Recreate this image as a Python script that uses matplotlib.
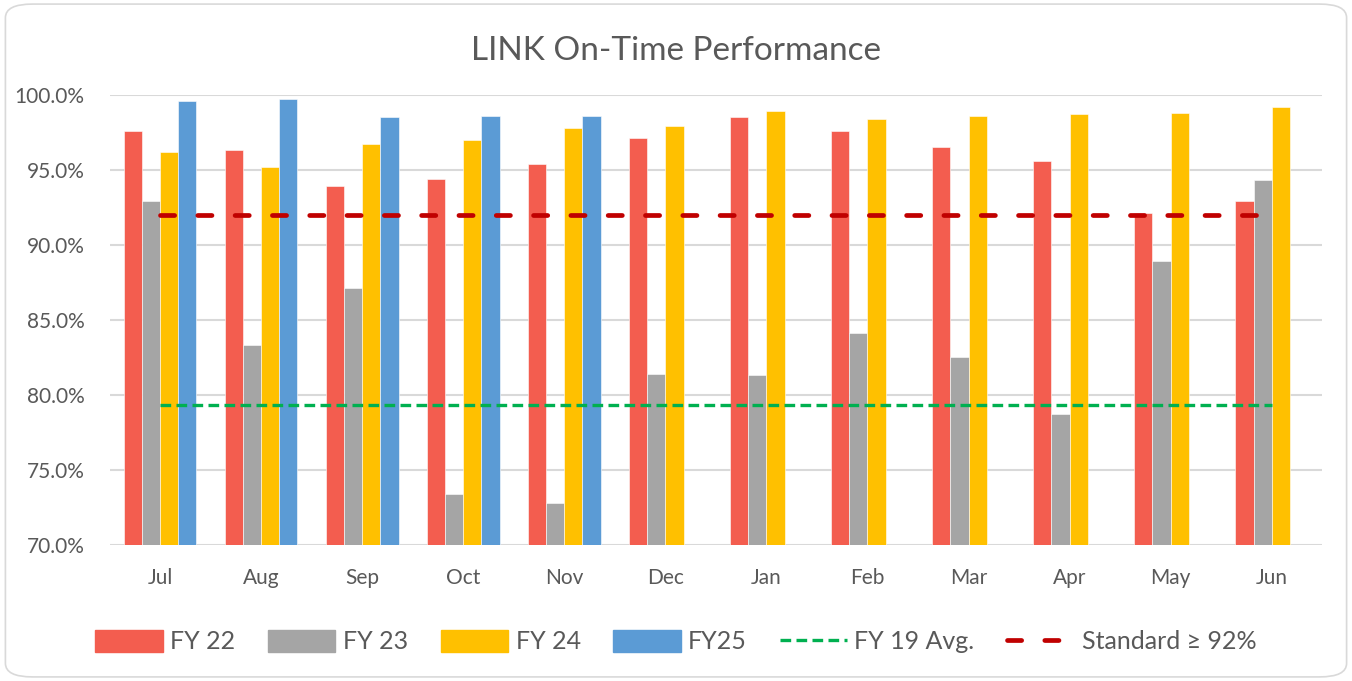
import matplotlib.pyplot as plt
import matplotlib.patches as mpatches
from matplotlib.lines import Line2D
import numpy as np

# ── DATA ────────────────────────────────────────────────
months = ['Jul', 'Aug', 'Sep', 'Oct', 'Nov', 'Dec',
          'Jan', 'Feb', 'Mar', 'Apr', 'May', 'Jun']

fy22 = [97.6, 96.3, 93.9, 94.4, 95.4, 97.1, 98.5, 97.6, 96.5, 95.6, 92.1, 92.9]
fy23 = [92.9, 83.3, 87.1, 73.4, 72.8, 81.4, 81.3, 84.1, 82.5, 78.7, 88.9, 94.3]
fy24 = [96.2, 95.2, 96.7, 97.0, 97.8, 97.9, 98.9, 98.4, 98.6, 98.7, 98.8, 99.2]
fy25 = [99.6, 99.7, 98.5, 98.6, 98.6]

fy19_avg = 79.3
standard = 92.0

series = [('FY 22', fy22, '#F35D4F'),
          ('FY 23', fy23, '#A5A5A5'),
          ('FY 24', fy24, '#FFC000'),
          ('FY25', fy25, '#5B9BD5')]

# ── FIGURE ──────────────────────────────────────────────
plt.rcParams['font.family'] = ['Lato', 'DejaVu Sans']
text_col = '#595959'

fig = plt.figure(figsize=(13.52, 6.81), dpi=100)
fig.patch.set_facecolor('white')
border = mpatches.FancyBboxPatch((0.004, 0.006), 0.992, 0.988,
                                 boxstyle='round,pad=0,rounding_size=0.02',
                                 transform=fig.transFigure, facecolor='none',
                                 edgecolor='#D9D9D9', linewidth=1.2, zorder=-1)
fig.patches.append(border)

ax = fig.add_axes([0.081, 0.2, 0.897, 0.6605])
ax.set_facecolor('none')

x = np.arange(len(months))
w = 0.18
for k, (name, vals, col) in enumerate(series):
    xs = x[:len(vals)] + (k - 1.5) * w
    ax.bar(xs, np.array(vals) - 70, bottom=70, width=w, color=col,
           edgecolor='white', linewidth=0.4, zorder=3)

# FY 19 average and standard lines across the categories
ax.plot(x, [fy19_avg] * len(x), color='#00B050', linewidth=2.4,
        dashes=(3.2, 1.6), dash_capstyle='butt', zorder=4)
ax.plot(x, [standard] * len(x), color='#C00000', linewidth=3.4,
        dashes=(3.0, 4.9), dash_capstyle='round', zorder=4)

ax.set_xlim(-0.5, len(months) - 0.5)
ax.set_ylim(70, 100)
ax.set_yticks(np.arange(70, 100.1, 5))
ax.yaxis.set_major_formatter(plt.FuncFormatter(lambda v, p: f'{v:.1f}%'))
ax.set_xticks(x)
ax.set_xticklabels(months)
ax.tick_params(axis='both', length=0, labelsize=15, colors=text_col)
ax.tick_params(axis='x', pad=17)
ax.tick_params(axis='y', pad=18)
ax.grid(axis='y', color='#D9D9D9', linewidth=1.5, zorder=0)
for s in ax.spines.values():
    s.set_visible(False)

fig.text(0.5, 0.925, 'LINK On-Time Performance', ha='center', va='center',
         fontsize=24, color=text_col)

handles = [mpatches.Patch(color=c, label=n) for n, _, c in series]
handles.append(Line2D([], [], color='#00B050', linewidth=2.4,
                      dashes=(3.2, 1.6), dash_capstyle='butt',
                      label='FY 19 Avg.'))
handles.append(Line2D([], [], color='#C00000', linewidth=3.4,
                      dashes=(3.0, 4.9), dash_capstyle='round',
                      label='Standard ≥ 92%'))
leg = fig.legend(handles=handles, loc='center', bbox_to_anchor=(0.5, 0.058),
                 ncol=6, frameon=False, fontsize=18, handlelength=2.7,
                 handleheight=1.0, handletextpad=0.3, columnspacing=1.3)
for t in leg.get_texts():
    t.set_color(text_col)

fig.savefig('out.png', dpi=100, facecolor='white')
